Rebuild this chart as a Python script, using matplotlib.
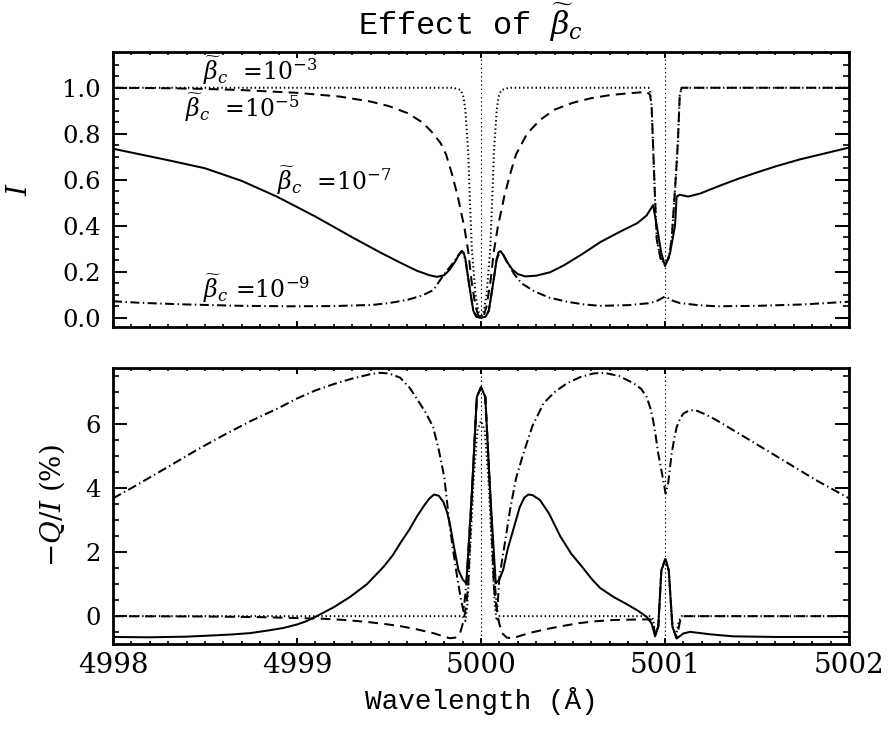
import matplotlib
matplotlib.use('Agg')
import matplotlib.pyplot as plt
from matplotlib.ticker import MultipleLocator

plt.rcParams['font.family'] = ['DejaVu Serif']
plt.rcParams['mathtext.fontset'] = 'dejavuserif'
plt.rcParams['lines.scale_dashes'] = False

# ---- top panel: I ----
x_i3 = [4998.0, 4999.85, 4999.89, 4999.905, 4999.915, 4999.93, 4999.94, 4999.95, 4999.97, 4999.985,
        5000.0, 5000.015, 5000.03, 5000.05, 5000.06, 5000.07, 5000.085, 5000.095, 5000.11, 5000.15,
        5000.91, 5000.918, 5000.927, 5000.946, 5000.955, 5000.975, 5001.0, 5001.02, 5001.036,
        5001.06, 5001.07, 5001.08, 5001.09, 5002.0]
i3 = [1.0, 1.0, 0.99, 0.96, 0.90, 0.72, 0.50, 0.30, 0.10, 0.03,
      0.0, 0.03, 0.10, 0.30, 0.50, 0.72, 0.90, 0.96, 0.99, 1.0,
      1.0, 0.99, 0.92, 0.51, 0.34, 0.26, 0.23, 0.26, 0.34,
      0.63, 0.77, 0.97, 1.0, 1.0]

x_i5 = [4998.0, 4998.3, 4998.5, 4998.7, 4999.0, 4999.23, 4999.4, 4999.5, 4999.6, 4999.68, 4999.73,
        4999.78, 4999.81, 4999.84, 4999.873, 4999.91, 4999.93, 4999.95, 4999.97, 4999.985, 5000.0,
        5000.015, 5000.03, 5000.05, 5000.07, 5000.09, 5000.127, 5000.16, 5000.19, 5000.25, 5000.32,
        5000.4, 5000.5, 5000.6, 5000.7, 5000.8, 5000.9, 5000.918, 5000.927, 5000.946, 5000.955,
        5000.975, 5001.0, 5001.02, 5001.036, 5001.06, 5001.07, 5001.08, 5001.09, 5002.0]
i5 = [1.0, 0.998, 0.995, 0.99, 0.978, 0.962, 0.94, 0.92, 0.89, 0.85, 0.81,
      0.76, 0.71, 0.63, 0.53, 0.39, 0.29, 0.15, 0.05, 0.01, 0.0,
      0.01, 0.05, 0.15, 0.29, 0.39, 0.53, 0.63, 0.71, 0.80, 0.86,
      0.905, 0.935, 0.955, 0.968, 0.976, 0.982, 0.97, 0.92, 0.51, 0.34,
      0.26, 0.23, 0.26, 0.34, 0.63, 0.77, 0.97, 1.0, 1.0]

x_i7 = [4998.0, 4998.15, 4998.3, 4998.5, 4998.7, 4998.89, 4999.1, 4999.3, 4999.45, 4999.56,
        4999.65, 4999.72, 4999.76, 4999.8, 4999.83, 4999.86, 4999.88, 4999.895, 4999.905,
        4999.915, 4999.925, 4999.94, 4999.958, 4999.975, 5000.0, 5000.025, 5000.042, 5000.06,
        5000.075, 5000.085, 5000.095, 5000.105, 5000.12, 5000.14, 5000.17, 5000.2, 5000.24,
        5000.3, 5000.375, 5000.45, 5000.55, 5000.65, 5000.75, 5000.85, 5000.9, 5000.935,
        5000.955, 5000.98, 5001.0, 5001.027, 5001.054, 5001.063, 5001.08, 5001.125, 5001.19,
        5001.3, 5001.4, 5001.5, 5001.6, 5001.73, 5001.87, 5002.0]
i7 = [0.735, 0.71, 0.685, 0.65, 0.595, 0.527, 0.44, 0.35, 0.285, 0.24,
      0.205, 0.185, 0.178, 0.185, 0.21, 0.245, 0.275, 0.29, 0.285,
      0.255, 0.20, 0.12, 0.03, 0.005, 0.0, 0.005, 0.03, 0.12,
      0.20, 0.255, 0.285, 0.29, 0.275, 0.245, 0.21, 0.19, 0.18,
      0.183, 0.198, 0.228, 0.277, 0.33, 0.372, 0.412, 0.445, 0.49,
      0.40, 0.28, 0.225, 0.28, 0.40, 0.527, 0.535, 0.527, 0.54,
      0.575, 0.605, 0.632, 0.658, 0.688, 0.715, 0.74]

x_i9 = [4998.0, 4998.15, 4998.4, 4998.7, 4998.96, 4999.2, 4999.41, 4999.5, 4999.6, 4999.68,
        4999.74, 4999.8, 4999.85, 4999.88, 4999.895, 4999.915, 4999.925, 4999.94, 4999.958,
        4999.975, 5000.0, 5000.025, 5000.042, 5000.06, 5000.075, 5000.085, 5000.105, 5000.12,
        5000.15, 5000.18, 5000.22, 5000.29, 5000.37, 5000.466, 5000.56, 5000.647, 5000.8,
        5000.92, 5000.96, 5001.0, 5001.04, 5001.08, 5001.18, 5001.28, 5001.5, 5001.75, 5002.0]
i9 = [0.072, 0.065, 0.058, 0.052, 0.05, 0.051, 0.056, 0.064, 0.078, 0.097,
      0.12, 0.19, 0.24, 0.275, 0.29, 0.255, 0.20, 0.12, 0.03,
      0.005, 0.0, 0.005, 0.03, 0.12, 0.20, 0.255, 0.29, 0.275,
      0.23, 0.19, 0.15, 0.115, 0.088, 0.07, 0.058, 0.052, 0.055,
      0.064, 0.075, 0.093, 0.075, 0.064, 0.055, 0.05, 0.052, 0.058, 0.07]

# ---- bottom panel: -Q/I (%) ----
x_q3 = [4998.0, 4999.9, 4999.915, 4999.925, 4999.94, 4999.96, 4999.98, 5000.0, 5000.02, 5000.04,
        5000.06, 5000.075, 5000.085, 5000.1, 5000.92, 5000.935, 5000.946, 5000.963, 5000.98,
        5001.0, 5001.02, 5001.04, 5001.06, 5001.075, 5001.09, 5002.0]
q3 = [0.0, 0.0, -0.15, 0.3, 2.0, 4.3, 5.8, 6.1, 5.8, 4.3,
      2.0, 0.3, -0.15, 0.0, 0.0, -0.1, -0.55, -0.3, 1.4,
      1.75, 1.4, -0.3, -0.6, -0.15, 0.0, 0.0]

x_q5 = [4998.0, 4998.5, 4998.8, 4999.0, 4999.14, 4999.26, 4999.38, 4999.47, 4999.56, 4999.65,
        4999.74, 4999.79, 4999.83, 4999.86, 4999.886, 4999.9, 4999.913, 4999.93, 4999.95,
        4999.977, 5000.0, 5000.023, 5000.05, 5000.07, 5000.087, 5000.1, 5000.114, 5000.14,
        5000.17, 5000.21, 5000.26, 5000.35, 5000.44, 5000.53, 5000.62, 5000.72, 5000.8,
        5000.92, 5000.935, 5000.946, 5000.963, 5000.98, 5001.0, 5001.02, 5001.04, 5001.063,
        5001.08, 5001.09, 5002.0]
q5 = [0.0, -0.01, -0.03, -0.06, -0.08, -0.12, -0.18, -0.24, -0.31, -0.41,
      -0.53, -0.62, -0.69, -0.67, -0.53, -0.25, 0.1, 0.9, 3.8,
      6.85, 7.15, 6.85, 3.8, 0.9, 0.1, -0.25, -0.53, -0.67,
      -0.69, -0.62, -0.53, -0.41, -0.31, -0.22, -0.16, -0.12, -0.11,
      -0.1, -0.18, -0.6, -0.33, 1.44, 1.78, 1.44, -0.33, -0.68,
      -0.2, 0.0, 0.0]

x_q7 = [4998.0, 4998.2, 4998.4, 4998.55, 4998.65, 4998.745, 4998.84, 4998.925, 4999.0, 4999.05,
        4999.107, 4999.2, 4999.288, 4999.38, 4999.47, 4999.52, 4999.56, 4999.61, 4999.65,
        4999.69, 4999.72, 4999.745, 4999.77, 4999.795, 4999.815, 4999.83, 4999.855, 4999.877,
        4999.9, 4999.92, 4999.95, 4999.977, 5000.0, 5000.023, 5000.05, 5000.08, 5000.1,
        5000.12, 5000.145, 5000.175, 5000.21, 5000.235, 5000.257, 5000.28, 5000.32, 5000.37,
        5000.43, 5000.49, 5000.555, 5000.6, 5000.647, 5000.72, 5000.79, 5000.85, 5000.9,
        5000.927, 5000.946, 5000.963, 5000.98, 5001.003, 5001.02, 5001.04, 5001.063, 5001.1,
        5001.136, 5001.25, 5001.37, 5001.6, 5002.0]
q7 = [-0.65, -0.66, -0.64, -0.6, -0.57, -0.53, -0.45, -0.37, -0.26, -0.16,
      0.0, 0.28, 0.6, 1.0, 1.54, 1.9, 2.27, 2.7, 3.1,
      3.45, 3.68, 3.8, 3.76, 3.57, 3.25, 2.9, 2.1, 1.44,
      1.15, 1.02, 3.83, 6.85, 7.15, 6.85, 3.83, 1.02, 1.15,
      1.44, 2.1, 2.7, 3.4, 3.7, 3.8, 3.78, 3.63, 3.2,
      2.5, 1.95, 1.5, 1.17, 0.88, 0.6, 0.38, 0.18, -0.02,
      -0.23, -0.63, -0.33, 1.44, 1.78, 1.44, -0.33, -0.7, -0.54,
      -0.49, -0.57, -0.63, -0.65, -0.65]

x_q9 = [4998.0, 4998.1, 4998.25, 4998.47, 4998.6, 4998.75, 4998.9, 4999.0, 4999.1, 4999.2,
        4999.3, 4999.4, 4999.45, 4999.5, 4999.56, 4999.61, 4999.65, 4999.7, 4999.74, 4999.77,
        4999.8, 4999.83, 4999.85, 4999.87, 4999.89, 4999.905, 4999.92, 4999.95, 4999.977,
        5000.0, 5000.023, 5000.05, 5000.075, 5000.088, 5000.1, 5000.13, 5000.157, 5000.19,
        5000.23, 5000.28, 5000.34, 5000.4, 5000.466, 5000.54, 5000.61, 5000.67, 5000.75,
        5000.83, 5000.87, 5000.9, 5000.92, 5000.935, 5000.95, 5000.963, 5000.99, 5001.003,
        5001.017, 5001.036, 5001.05, 5001.063, 5001.08, 5001.1, 5001.13, 5001.163, 5001.22,
        5001.28, 5001.46, 5001.64, 5001.82, 5002.0]
q9 = [3.68, 4.0, 4.5, 5.24, 5.65, 6.1, 6.5, 6.8, 7.05, 7.25,
      7.42, 7.56, 7.6, 7.58, 7.45, 7.15, 6.8, 6.35, 5.9, 5.2,
      4.35, 2.8, 2.0, 1.23, 0.55, 0.15, 1.0, 3.83, 6.85,
      7.15, 6.85, 3.83, 1.0, 0.15, 1.23, 2.3, 3.3, 4.3,
      5.08, 5.95, 6.65, 7.0, 7.27, 7.47, 7.58, 7.6, 7.5,
      7.27, 7.1, 6.85, 6.5, 6.12, 5.6, 5.08, 4.25, 3.83,
      4.15, 5.08, 5.55, 5.9, 6.15, 6.33, 6.42, 6.44, 6.3,
      6.12, 5.5, 4.875, 4.25, 3.68]

line_centers = [5000.0, 5001.0]
beta_labels = [r'$\widetilde{\beta}_c$  =10$^{-3}$', r'$\widetilde{\beta}_c$  =10$^{-5}$',
               r'$\widetilde{\beta}_c$  =10$^{-7}$', r'$\widetilde{\beta}_c$ =10$^{-9}$']
label_x = [4998.49, 4998.39, 4998.89, 4998.49]
label_y = [1.035, 0.874, 0.557, 0.087]

DOT = (0, (1.0, 2.0))
DASH = (0, (7.0, 4.5))
DASHDOT = (0, (6.5, 2.5, 1.0, 2.5))

fig = plt.figure(figsize=(8.9, 7.34), dpi=100)
ax1 = fig.add_axes([0.127, 0.5545, 0.827, 0.3745])
ax2 = fig.add_axes([0.127, 0.1226, 0.827, 0.376])

lw = 1.45
for ax, data in [(ax1, [(x_i3, i3, DOT), (x_i5, i5, DASH), (x_i7, i7, '-'), (x_i9, i9, DASHDOT)]),
                 (ax2, [(x_q3, q3, DOT), (x_q5, q5, DASH), (x_q7, q7, '-'), (x_q9, q9, DASHDOT)])]:
    for xs, ys, ls in data:
        ax.plot(xs, ys, color='black', lw=lw, linestyle=ls)
    for xc in line_centers:
        ax.axvline(xc, color='black', lw=0.8, linestyle=(0, (1.0, 2.0)))
    ax.set_xlim(4998, 5002)
    ax.xaxis.set_major_locator(MultipleLocator(1))
    ax.xaxis.set_minor_locator(MultipleLocator(0.1))
    for s in ax.spines.values():
        s.set_linewidth(2.0)
    ax.tick_params(axis='x', which='major', direction='in', top=True, length=4, width=1.4,
                   labelsize=20, pad=6)
    ax.tick_params(axis='x', which='minor', direction='in', top=True, length=2, width=1.2)
    ax.tick_params(axis='y', which='major', direction='in', right=True, length=10, width=1.4,
                   labelsize=17.5, pad=9)
    ax.tick_params(axis='y', which='minor', direction='in', right=True, length=4.5, width=1.2)

ax1.set_ylim(-0.04, 1.155)
ax1.yaxis.set_major_locator(MultipleLocator(0.2))
ax1.yaxis.set_minor_locator(MultipleLocator(0.05))
ax1.set_yticks([0.0, 0.2, 0.4, 0.6, 0.8, 1.0])
ax1.set_yticklabels(['0.0', '0.2', '0.4', '0.6', '0.8', '1.0'])
ax1.tick_params(axis='x', labelbottom=False)
ax1.set_ylabel(r'$I$', fontsize=20)
ax1.yaxis.set_label_coords(-0.109, 0.5)

for txt, lx, ly in zip(beta_labels, label_x, label_y):
    ax1.text(lx, ly, txt, fontsize=17, ha='left', va='baseline')

ax2.set_ylim(-0.87, 7.75)
ax2.yaxis.set_major_locator(MultipleLocator(2))
ax2.yaxis.set_minor_locator(MultipleLocator(0.5))
ax2.set_yticks([0, 2, 4, 6])
ax2.set_ylabel(r'$-Q/I$ (%)', fontsize=20)
ax2.yaxis.set_label_coords(-0.0625, 0.5)
ax2.set_xlabel('Wavelength (Å)', fontsize=20, family='Liberation Mono')
ax2.xaxis.set_label_coords(0.5, -0.155)

fig.text(0.529, 0.952, r'Effect of $\widetilde{\beta}_c$', fontsize=23, family='Liberation Mono',
         ha='center', va='baseline')

fig.savefig('out.png', dpi=100)
